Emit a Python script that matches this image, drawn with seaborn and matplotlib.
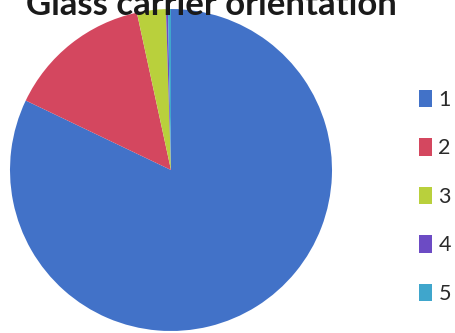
import matplotlib
matplotlib.use("Agg")
import matplotlib.pyplot as plt
import seaborn as sns
from matplotlib.patches import Patch

sns.set_style("white")
plt.rcParams['font.family'] = ['Lato', 'DejaVu Sans']

# slice shares (percent)
labels = ["1", "2", "3", "4", "5"]
shares = [82.1, 14.5, 2.9, 0.2, 0.3]
colors = ["#4272C8", "#D4475F", "#B9D03C", "#6C4BC4", "#3FA6CC"]
title = "Glass carrier orientation"

W, H = 456, 333
fig = plt.figure(figsize=(W / 100, H / 100), dpi=100)
fig.patch.set_facecolor("white")

# pie centre ~ (171, 170) px, radius ~ 161 px
cx, cy, r = 171, 170, 161
ax = fig.add_axes([(cx - r) / W, (H - cy - r) / H, 2 * r / W, 2 * r / H])
ax.pie(shares, colors=colors, startangle=90, counterclock=False,
       wedgeprops=dict(linewidth=0), radius=1)
ax.set_xlim(-1, 1)
ax.set_ylim(-1, 1)
ax.set_aspect("equal")
ax.axis("off")

# title is cut off at the top in the scan
fig.text(397 / W, 1 - 15 / H, title, ha="right", va="baseline",
         fontsize=25, fontweight="bold", color="#1a1a1a")

handles = [Patch(facecolor=c, edgecolor="none") for c in colors]
fig.legend(handles, labels, loc="upper left", bbox_to_anchor=(419 / W, 1 - 90 / H),
           frameon=False, fontsize=15.5, labelspacing=1.32,
           handlelength=0.6, handleheight=0.85, handletextpad=0.3,
           labelcolor="#2a2a2a", borderpad=0, borderaxespad=0)

fig.savefig("out.png", dpi=100)
